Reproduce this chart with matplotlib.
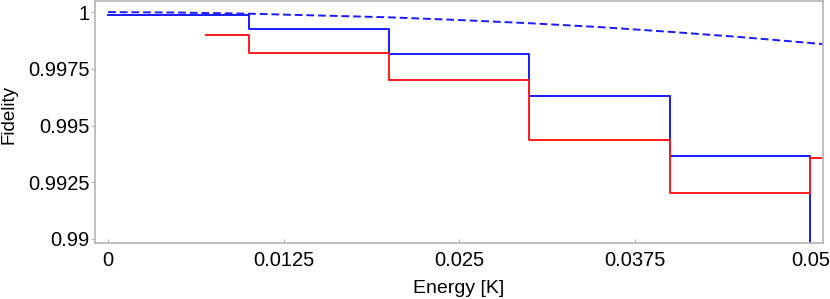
import numpy as np
import matplotlib.pyplot as plt

plt.rcParams['font.family'] = ['Liberation Sans', 'DejaVu Sans']

# step edges [K] and fidelity values
blue_x = [0.0, 0.01, 0.02, 0.03, 0.04, 0.05]
blue_y = [0.99989, 0.99925, 0.99815, 0.99630, 0.99365, 0.9850]

red_x = [0.007, 0.01, 0.02, 0.03, 0.04, 0.05, 0.0515]
red_y = [0.99899, 0.99819, 0.99700, 0.99436, 0.99202, 0.99356, 0.99356]

# dashed curve, sampled points
curve_x = [0.0, 0.005, 0.01, 0.015, 0.02, 0.025, 0.03, 0.035, 0.04, 0.045, 0.0509]
curve_y = [1.00000, 0.99998, 0.99993, 0.99985, 0.99977, 0.99965, 0.99951,
           0.99934, 0.99913, 0.99890, 0.99859]

xticks = [0, 0.0125, 0.025, 0.0375, 0.05]
xtick_labels = ['0', '0.0125', '0.025', '0.0375', '0.05']
yticks = [0.99, 0.9925, 0.995, 0.9975, 1.0]
ytick_labels = ['0.99', '0.9925', '0.995', '0.9975', '1']

fig = plt.figure(figsize=(8.3, 2.99), dpi=100)
ax = fig.add_axes([0.1145, 0.1873, 0.8771, 0.8094])

ax.step(blue_x, blue_y, where='post', color='#1a1aff', lw=1.4)
ax.step(red_x, red_y, where='post', color='#ff1a1a', lw=1.4)
ax.plot(curve_x, curve_y, color='#1a1aff', lw=1.4, linestyle=(0, (4, 2)))

ax.set_xlim(-0.00093, 0.0509)
ax.set_ylim(0.98982, 1.00049)

ax.set_xticks(xticks)
ax.set_xticklabels(xtick_labels)
ax.set_yticks(yticks)
ax.set_yticklabels(ytick_labels)

for s in ax.spines.values():
    s.set_color('#b4b4b4')
    s.set_linewidth(1.2)

ax.tick_params(axis='x', direction='in', length=3, color='#b4b4b4',
               labelsize=14.5, pad=6)
ax.tick_params(axis='y', direction='out', length=3, color='#b4b4b4',
               labelsize=14.5, pad=1)

ax.set_xlabel('Energy [K]', fontsize=14, labelpad=7)
ax.set_ylabel('Fidelity', fontsize=13.5)
ax.yaxis.set_label_coords(-0.107, 0.53)

fig.savefig('out.png', dpi=100)
